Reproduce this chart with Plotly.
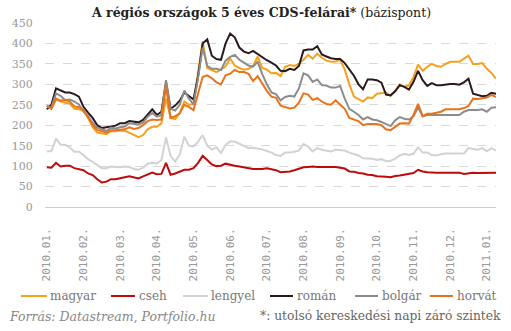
import numpy as np
import plotly.graph_objects as go

# Sampling positions, in months since 2010.01. (one point per 1/8 month)
honap = np.arange(99) / 8.0

tick_labels = ["2010.01.", "2010.02.", "2010.03.", "2010.04.", "2010.05.", "2010.06.",
               "2010.07.", "2010.08.", "2010.09.", "2010.10.", "2010.11.", "2010.12.",
               "2011.01."]

magyar = [249, 242, 262, 258, 255, 253, 240, 239, 235, 218, 195, 182, 180, 178, 186, 185,
          187, 186, 182, 176, 171, 176, 190, 196, 196, 205, 265, 218, 215, 230, 258, 250,
          251, 330, 405, 340, 334, 330, 336, 344, 363, 346, 340, 336, 338, 345, 368, 340,
          336, 327, 328, 320, 343, 347, 345, 350, 360, 372, 363, 375, 365, 358, 355, 356,
          360, 336, 300, 270, 264, 258, 268, 266, 277, 278, 280, 272, 284, 300, 294, 297,
          318, 348, 333, 343, 350, 345, 343, 350, 355, 355, 355, 363, 370, 350, 350, 352,
          338, 328, 314]

cseh = [97, 96, 108, 99, 101, 101, 95, 93, 90, 82, 78, 68, 60, 62, 68, 68,
        71, 73, 75, 73, 70, 75, 79, 84, 80, 81, 108, 79, 82, 86, 91, 91,
        95, 108, 125, 115, 104, 100, 101, 106, 103, 101, 99, 97, 95, 93, 93, 93,
        95, 93, 90, 85, 86, 87, 90, 93, 97, 98, 99, 98, 98, 98, 98, 98,
        96, 94, 87, 86, 83, 82, 79, 78, 75, 75, 74, 73, 76, 77, 79, 80,
        83, 91, 87, 85, 84, 84, 84, 84, 84, 84, 84, 81, 83, 84, 83, 83,
        83, 84, 84]

lengyel = [136, 137, 167, 152, 152, 146, 135, 135, 127, 117, 110, 103, 95, 95, 99, 98,
           97, 99, 98, 93, 91, 96, 106, 108, 106, 115, 170, 125, 111, 128, 172, 150,
           148, 160, 176, 150, 140, 146, 132, 152, 160, 160, 154, 150, 144, 145, 143, 141,
           137, 133, 127, 125, 133, 133, 135, 138, 154, 148, 136, 144, 140, 138, 136, 140,
           139, 138, 133, 130, 126, 119, 119, 118, 115, 117, 112, 113, 118, 126, 130, 127,
           130, 146, 133, 133, 127, 126, 129, 131, 131, 131, 131, 131, 144, 142, 140, 144,
           136, 144, 138]

roman = [239, 250, 290, 285, 280, 280, 276, 270, 245, 231, 218, 200, 193, 195, 197, 199,
         205, 205, 210, 209, 207, 213, 227, 239, 225, 233, 305, 240, 248, 260, 280, 272,
         263, 320, 400, 410, 370, 362, 360, 400, 424, 415, 390, 380, 376, 382, 374, 366,
         359, 353, 346, 333, 332, 338, 335, 345, 383, 385, 385, 393, 373, 368, 364, 362,
         362, 352, 336, 321, 300, 288, 312, 312, 310, 304, 275, 273, 283, 298, 294, 287,
         306, 333, 310, 296, 303, 298, 298, 300, 301, 301, 299, 305, 314, 277, 274, 271,
         272, 279, 277]

bolgar = [244, 244, 278, 272, 261, 263, 258, 251, 233, 222, 206, 194, 190, 186, 194, 192,
          195, 197, 205, 203, 202, 206, 221, 230, 221, 225, 310, 240, 236, 250, 285, 265,
          251, 315, 390, 345, 338, 338, 335, 358, 367, 372, 360, 353, 346, 343, 355, 325,
          300, 280, 276, 261, 269, 272, 270, 290, 327, 322, 306, 312, 298, 297, 292, 292,
          296, 265, 240, 233, 225, 214, 220, 214, 212, 208, 203, 198, 212, 220, 216, 214,
          222, 244, 222, 225, 225, 225, 225, 225, 225, 225, 225, 233, 237, 237, 237, 239,
          233, 243, 244]

horvat = [247, 240, 265, 260, 262, 258, 246, 244, 238, 220, 200, 188, 186, 182, 188, 188,
          189, 190, 195, 191, 193, 200, 210, 214, 213, 214, 295, 218, 222, 229, 250, 245,
          237, 280, 318, 322, 315, 305, 300, 322, 326, 335, 330, 330, 326, 308, 320, 302,
          284, 270, 267, 248, 245, 241, 243, 255, 278, 275, 262, 266, 258, 252, 250, 261,
          250, 240, 218, 214, 210, 200, 203, 203, 203, 200, 190, 188, 197, 204, 205, 204,
          225, 252, 222, 228, 228, 230, 233, 239, 239, 239, 239, 242, 247, 265, 264, 266,
          268, 274, 269]

series = [
    ("magyar", magyar, "#F5A11C"),
    ("cseh", cseh, "#BE0A0A"),
    ("lengyel", lengyel, "#D2D2D2"),
    ("román", roman, "#2A1A20"),
    ("bolgár", bolgar, "#8C8C8C"),
    ("horvát", horvat, "#E8731C"),
]

W, H = 511, 331
L, R, T, B = 45, 15, 23, 124
plot_w, plot_h = W - L - R, H - T - B


def px_x(px):
    return (px - L) / plot_w


def px_y(py):
    return (H - B - py) / plot_h


fig = go.Figure()
for name, vals, color in series:
    fig.add_trace(go.Scatter(
        x=honap, y=vals, name=name, mode="lines",
        line=dict(color=color, width=2), showlegend=False,
    ))

serif = "DejaVu Serif"

fig.update_layout(
    width=W, height=H,
    margin=dict(l=L, r=R, t=T, b=B),
    paper_bgcolor="white", plot_bgcolor="white",
    showlegend=False,
    xaxis=dict(
        range=[-0.05, 12.25],
        tickmode="array", tickvals=list(range(13)), ticktext=tick_labels,
        tickangle=-90, ticks="outside", ticklen=16, tickcolor="rgba(0,0,0,0)",
        tickfont=dict(family="DejaVu Sans Mono", size=11, color="#999999"),
        showgrid=False, zeroline=False,
        showline=True, linecolor="#cccccc", linewidth=1,
    ),
    yaxis=dict(
        range=[0, 450], tickmode="array", tickvals=list(range(0, 451, 50)),
        ticks="outside", ticklen=9, tickcolor="rgba(0,0,0,0)",
        tickfont=dict(family=serif, size=11, color="#999999"),
        showgrid=True, gridcolor="#d9d9d9", griddash="dash", gridwidth=1,
        zeroline=False,
    ),
)

# Title
fig.add_annotation(
    xref="paper", yref="paper", x=px_x(261), y=px_y(12), showarrow=False,
    xanchor="center", yanchor="middle",
    text="<b>A régiós országok 5 éves CDS-felárai*</b> (bázispont)",
    font=dict(family=serif, size=12.5, color="#222222"),
)

# Legend row: swatch from x0 to x1, label starting at tx
legend_pos = [(21, 47, 48), (111, 135, 137), (183, 208, 209),
              (270, 293, 295), (355, 378, 380), (430, 453, 455)]
leg_y = px_y(296)
for (name, _, color), (x0, x1, tx) in zip(series, legend_pos):
    fig.add_shape(type="line", xref="paper", yref="paper",
                  x0=px_x(x0), x1=px_x(x1), y0=leg_y, y1=leg_y,
                  line=dict(color=color, width=2))
    fig.add_annotation(xref="paper", yref="paper", x=px_x(tx), y=leg_y,
                       showarrow=False, xanchor="left", yanchor="middle",
                       text=name, font=dict(family=serif, size=12, color="#777777"))

# Footer
fig.add_annotation(
    xref="paper", yref="paper", x=px_x(7), y=px_y(316), showarrow=False,
    xanchor="left", yanchor="middle",
    text="<i>Forrás: Datastream, Portfolio.hu</i>",
    font=dict(family=serif, size=12.5, color="#888888"),
)
fig.add_annotation(
    xref="paper", yref="paper", x=px_x(503), y=px_y(316), showarrow=False,
    xanchor="right", yanchor="middle",
    text="*: utolsó kereskedési napi záró szintek",
    font=dict(family=serif, size=12.3, color="#666666"),
)

fig.write_html("out.html")
